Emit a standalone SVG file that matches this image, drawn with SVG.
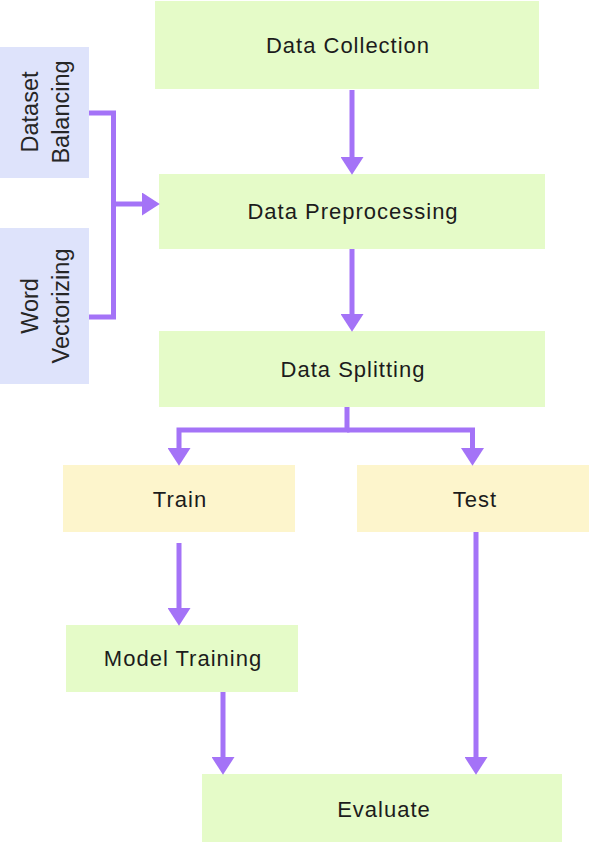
<svg xmlns="http://www.w3.org/2000/svg" width="590" height="842" viewBox="0 0 590 842">
  <style>
    .green { fill: #E5FBC8; }
    .yellow { fill: #FDF5CC; }
    .blue { fill: #DEE3FB; }
    .lbl { font-family: "Liberation Sans", Arial, sans-serif; font-size: 22px; letter-spacing: 1px; fill: #1c1c1c; text-anchor: middle; }
    .vlbl { font-family: "Liberation Sans", Arial, sans-serif; font-size: 23.5px; fill: #262626; text-anchor: middle; }
    .conn { fill: none; stroke: #A473F7; stroke-width: 5; stroke-linejoin: miter; }
  </style>
  <defs>
    <marker id="arrow" markerUnits="userSpaceOnUse" markerWidth="18" markerHeight="23" viewBox="0 0 17 22" refX="0" refY="11" orient="auto">
      <path d="M0,0 L17,11 L0,22 Z" fill="#A473F7"/>
    </marker>
  </defs>
  <rect width="590" height="842" fill="#FFFFFF"/>

  <g id="data-collection">
    <rect class="green" x="155" y="1" width="384" height="88"/>
    <text class="lbl" x="348" y="53">Data Collection</text>
  </g>
  <g id="data-preprocessing">
    <rect class="green" x="159" y="174" width="386" height="75"/>
    <text class="lbl" x="353" y="219">Data Preprocessing</text>
  </g>
  <g id="data-splitting">
    <rect class="green" x="159" y="331" width="386" height="76"/>
    <text class="lbl" x="353" y="377">Data Splitting</text>
  </g>
  <g id="dataset-balancing">
    <rect class="blue" x="0" y="47" width="89" height="131"/>
    <text class="vlbl" transform="translate(38,112) rotate(-90)">Dataset</text>
    <text class="vlbl" transform="translate(68.5,112) rotate(-90)">Balancing</text>
  </g>
  <g id="word-vectorizing">
    <rect class="blue" x="0" y="228" width="89" height="156"/>
    <text class="vlbl" transform="translate(38,306) rotate(-90)">Word</text>
    <text class="vlbl" transform="translate(68.5,306) rotate(-90)">Vectorizing</text>
  </g>
  <g id="train">
    <rect class="yellow" x="63" y="465" width="232" height="67"/>
    <text class="lbl" x="180" y="507">Train</text>
  </g>
  <g id="test">
    <rect class="yellow" x="357" y="465" width="232" height="67"/>
    <text class="lbl" x="475" y="507">Test</text>
  </g>
  <g id="model-training">
    <rect class="green" x="66" y="625" width="232" height="67"/>
    <text class="lbl" x="183" y="666">Model Training</text>
  </g>
  <g id="evaluate">
    <rect class="green" x="202" y="774" width="360" height="68"/>
    <text class="lbl" x="384" y="817">Evaluate</text>
  </g>

  <g id="connectors">
    <path class="conn" d="M352,90 V157" marker-end="url(#arrow)"/>
    <path class="conn" d="M352,249 V314" marker-end="url(#arrow)"/>
    <path class="conn" d="M89,113 H113.5 V317 H89"/>
    <path class="conn" d="M113.5,204 H142" marker-end="url(#arrow)"/>
    <path class="conn" d="M347,407 V430 H179 V448" marker-end="url(#arrow)"/>
    <path class="conn" d="M347,430 H472.5 V448" marker-end="url(#arrow)"/>
    <path class="conn" d="M179,543 V608" marker-end="url(#arrow)"/>
    <path class="conn" d="M223,692 V757" marker-end="url(#arrow)"/>
    <path class="conn" d="M476,532 V757" marker-end="url(#arrow)"/>
  </g>
</svg>
